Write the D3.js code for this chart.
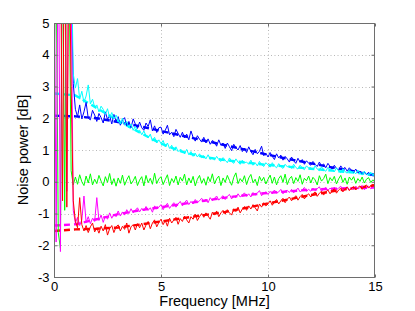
<!DOCTYPE html>
<html><head><meta charset="utf-8">
<script src="https://cdn.jsdelivr.net/npm/d3@7"></script>
<style>
body{margin:0;background:#fff;}
text{font-family:"Liberation Sans",Arial,Helvetica,sans-serif;}
</style></head>
<body><svg id="c" width="415" height="311"></svg>
<script>
// Frequency sampling of the measured curves (MHz)
const freqStart = 0, freqStop = 15, freqStep = 0.1;
const xTicks = [0, 5, 10, 15];
const yTicks = [-3, -2, -1, 0, 1, 2, 3, 4, 5];
const xLabel = "Frequency [MHz]";
const yLabel = "Noise power [dB]";

const blueMeas = [9.5,11.0,8.7,10.2,12.0,9.1,7.8,8.4,6.2,3.1,
2.28,2.05,2.42,1.98,2.2,2.5,2.0,1.95,2.25,2.1,
1.9,2.15,2.02,1.85,2.2,1.96,2.08,1.82,2.12,1.9,
2.05,1.78,1.95,2.02,1.76,1.9,1.7,1.98,1.82,1.68,
1.88,1.7,1.62,1.85,1.74,1.95,1.6,1.76,1.55,1.7,
1.72,1.5,1.62,1.78,1.48,1.56,1.42,1.65,1.52,1.4,
1.56,1.38,1.5,1.32,1.6,1.4,1.28,1.45,1.34,1.25,
1.4,1.22,1.35,1.18,1.3,1.25,1.12,1.32,1.15,1.22,
1.05,1.22,1.1,0.98,1.18,1.08,1.0,1.14,0.95,1.06,
0.92,1.1,0.95,0.85,1.02,0.88,0.96,1.12,0.82,0.9,
0.78,0.92,0.8,0.7,0.88,0.75,0.84,0.68,0.8,0.72,
0.62,0.78,0.66,0.58,0.74,0.62,0.7,0.55,0.66,0.58,
0.52,0.64,0.55,0.48,0.62,0.5,0.56,0.44,0.58,0.48,
0.4,0.52,0.42,0.36,0.5,0.4,0.45,0.33,0.44,0.36,
0.3,0.4,0.28,0.34,0.24,0.32,0.22,0.3,0.2,0.26,0.2];

const cyanMeas = [10.5,8.9,12.1,9.8,11.4,8.6,10.0,9.3,7.5,3.4,
2.95,3.25,2.6,2.85,2.5,2.7,3.05,2.45,2.6,2.35,
2.42,2.2,2.38,2.28,2.12,2.3,2.02,2.18,1.98,2.1,
1.95,1.82,2.0,1.78,1.9,1.7,1.82,1.62,1.75,1.58,
1.62,1.48,1.6,1.45,1.38,1.5,1.28,1.4,1.22,1.32,
1.2,1.3,1.1,1.22,1.05,1.15,0.98,1.1,0.95,1.02,
0.98,0.88,1.02,0.85,0.95,0.8,0.9,0.78,0.88,0.76,
0.82,0.72,0.85,0.7,0.78,0.68,0.8,0.7,0.64,0.76,
0.68,0.6,0.75,0.64,0.58,0.72,0.62,0.55,0.68,0.6,
0.62,0.55,0.68,0.52,0.6,0.5,0.64,0.54,0.48,0.6,
0.53,0.46,0.6,0.5,0.44,0.57,0.48,0.42,0.55,0.47,
0.5,0.42,0.55,0.45,0.4,0.52,0.44,0.38,0.5,0.43,
0.44,0.37,0.5,0.4,0.35,0.47,0.38,0.33,0.45,0.37,
0.38,0.31,0.44,0.34,0.29,0.41,0.32,0.27,0.38,0.3,
0.32,0.25,0.37,0.27,0.22,0.33,0.24,0.2,0.3,0.23,0.22];

const greenMeas = [3.5,7.0,-1.6,-2.1,8.0,-0.9,9.0,7.2,0.35,-0.1,
0.15,-0.08,0.22,0.0,-0.12,0.18,-0.04,0.25,-0.1,0.08,
-0.06,0.2,0.02,-0.13,0.16,-0.02,0.26,-0.09,0.1,-0.14,
0.12,-0.05,0.21,-0.11,0.06,0.19,-0.07,0.03,0.17,-0.12,
0.05,0.16,-0.13,0.2,-0.03,0.11,-0.08,0.27,-0.06,0.09,
0.16,-0.09,0.07,0.22,-0.12,0.1,-0.02,0.18,-0.1,0.14,
0.02,0.24,-0.1,0.12,-0.04,0.17,-0.13,0.08,0.2,-0.05,
0.1,-0.11,0.16,0.0,0.25,-0.07,0.09,0.18,-0.12,0.12,
-0.02,0.2,0.04,-0.11,0.14,0.28,-0.06,0.1,0.0,0.19,
-0.09,0.12,0.23,-0.03,0.08,-0.12,0.17,0.02,0.14,-0.07,
0.08,0.21,-0.05,0.15,-0.1,0.1,0.19,-0.02,0.24,-0.09,
0.09,0.17,-0.06,0.13,0.01,0.22,-0.08,0.11,0.03,0.18,
-0.04,0.14,0.06,-0.1,0.19,0.02,0.1,0.24,-0.06,0.13,
0.03,0.17,-0.07,0.09,0.2,-0.02,0.12,-0.08,0.15,0.05,
0.16,-0.05,0.1,0.01,0.15,-0.04,0.08,0.13,-0.02,0.06,0.0];

const magentaMeas = [8.5,-1.9,9.0,-2.2,10.5,7.5,-0.3,9.1,6.2,-0.9,
-1.3,-1.12,-1.38,-1.2,-0.45,-1.28,-1.1,-1.32,-1.15,-1.25,
-0.5,-1.22,-1.05,-1.28,-1.08,-1.18,-0.98,-1.15,-1.02,-1.1,
-0.92,-1.08,-0.95,-1.05,-0.88,-1.0,-0.85,-0.98,-0.9,-0.82,
-0.95,-0.84,-0.92,-0.78,-0.9,-0.82,-0.96,-0.76,-0.86,-0.8,
-0.72,-0.88,-0.76,-0.68,-0.84,-0.74,-0.66,-0.8,-0.7,-0.62,
-0.76,-0.66,-0.58,-0.72,-0.62,-0.7,-0.56,-0.66,-0.6,-0.52,
-0.64,-0.55,-0.66,-0.5,-0.6,-0.52,-0.45,-0.58,-0.5,-0.44,
-0.56,-0.46,-0.4,-0.54,-0.45,-0.5,-0.38,-0.48,-0.42,-0.35,
-0.46,-0.38,-0.48,-0.34,-0.42,-0.36,-0.28,-0.44,-0.37,-0.32,
-0.4,-0.3,-0.38,-0.26,-0.36,-0.32,-0.24,-0.38,-0.3,-0.27,
-0.34,-0.24,-0.35,-0.28,-0.2,-0.32,-0.26,-0.18,-0.3,-0.24,
-0.3,-0.2,-0.28,-0.22,-0.16,-0.3,-0.23,-0.18,-0.27,-0.2,
-0.26,-0.17,-0.25,-0.2,-0.14,-0.28,-0.21,-0.16,-0.25,-0.18,
-0.24,-0.15,-0.23,-0.18,-0.12,-0.25,-0.19,-0.14,-0.22,-0.17,-0.18];

const redMeas = [7.5,9.2,6.3,8.1,-0.6,10.0,-0.8,8.3,3.0,-0.6,
-1.25,-1.45,-0.5,-1.35,-1.55,-1.38,-1.6,-1.42,-1.3,-1.58,
-1.45,-1.62,-1.4,-1.55,-1.35,-1.68,-1.48,-1.38,-1.6,-1.42,
-1.36,-1.55,-1.4,-1.5,-1.3,-1.62,-1.42,-1.35,-1.52,-1.32,
-1.45,-1.3,-1.52,-1.36,-1.25,-1.48,-1.3,-1.2,-1.42,-1.28,
-1.18,-1.35,-1.22,-1.4,-1.15,-1.3,-1.2,-1.12,-1.34,-1.16,
-1.25,-1.08,-1.2,-1.3,-1.1,-1.18,-1.02,-1.22,-1.1,-1.0,
-1.12,-0.98,-1.08,-1.18,-0.96,-1.05,-0.92,-1.1,-0.98,-0.9,
-1.02,-0.88,-0.98,-1.05,-0.85,-0.94,-0.8,-0.98,-0.86,-0.78,
-0.9,-0.76,-0.86,-0.72,-0.82,-0.92,-0.7,-0.8,-0.66,-0.76,
-0.7,-0.6,-0.74,-0.64,-0.56,-0.7,-0.6,-0.52,-0.66,-0.55,
-0.48,-0.6,-0.52,-0.44,-0.58,-0.47,-0.4,-0.54,-0.44,-0.38,
-0.48,-0.38,-0.32,-0.46,-0.36,-0.3,-0.42,-0.32,-0.26,-0.38,
-0.28,-0.22,-0.36,-0.26,-0.2,-0.32,-0.22,-0.17,-0.28,-0.2,
-0.15,-0.26,-0.18,-0.13,-0.24,-0.15,-0.1,-0.2,-0.12,-0.08,-0.12];

// Model (dashed) curves, sampled every 1 MHz
const modelFreq = [0,1,2,3,4,5,6,7,8,9,10,11,12,13,14,15];
const blueModel = [2.08,2.06,2.0,1.88,1.75,1.6,1.45,1.3,1.15,1.0,0.85,0.71,0.58,0.45,0.33,0.2];
const cyanModel = [2.78,2.72,2.32,1.92,1.55,1.2,0.94,0.78,0.68,0.6,0.53,0.47,0.41,0.35,0.29,0.22];
const magentaModel = [-1.38,-1.34,-1.18,-1.02,-0.9,-0.8,-0.7,-0.6,-0.5,-0.42,-0.35,-0.3,-0.25,-0.22,-0.2,-0.18];
const redModel = [-1.55,-1.5,-1.48,-1.44,-1.35,-1.25,-1.15,-1.05,-0.95,-0.82,-0.68,-0.55,-0.42,-0.3,-0.2,-0.12];

const measured = [
  {v: blueMeas, c: "#0000ff"},
  {v: cyanMeas, c: "#00ffff"},
  {v: greenMeas, c: "#00ff00"},
  {v: magentaMeas, c: "#ff00ff"},
  {v: redMeas, c: "#ff0000"}
];
const models = [
  {v: blueModel, c: "#0000ff"},
  {v: cyanModel, c: "#00ffff"},
  {v: magentaModel, c: "#ff00ff"},
  {v: redModel, c: "#ff0000"}
];

const L = 54, R = 375, T = 23, B = 277;
const x = d3.scaleLinear().domain([0, 15]).range([L, R]);
const y = d3.scaleLinear().domain([-3, 5]).range([B, T]);
const svg = d3.select("#c");

svg.append("defs").append("clipPath").attr("id", "clip")
  .append("rect").attr("x", L).attr("y", T).attr("width", R - L).attr("height", B - T);

// grid
const grid = svg.append("g").attr("stroke", "#b8b8b8").attr("stroke-width", 1)
  .attr("stroke-dasharray", "1,2.5");
grid.selectAll(".gx").data(xTicks.filter(t => t > 0 && t < 15)).enter().append("line")
  .attr("x1", d => Math.round(x(d)) + 0.5).attr("x2", d => Math.round(x(d)) + 0.5)
  .attr("y1", T).attr("y2", B);
grid.selectAll(".gy").data(yTicks.filter(t => t > -3 && t < 5)).enter().append("line")
  .attr("y1", d => Math.round(y(d)) + 0.5).attr("y2", d => Math.round(y(d)) + 0.5)
  .attr("x1", L).attr("x2", R);

const plot = svg.append("g").attr("clip-path", "url(#clip)");
const mline = d3.line().x((d, i) => x(modelFreq[i])).y(d => y(d));
models.forEach(s => {
  plot.append("path").attr("d", mline(s.v)).attr("fill", "none")
    .attr("stroke", s.c).attr("stroke-width", 2.4).attr("stroke-dasharray", "6,4");
});
const line = d3.line().x((d, i) => x(freqStart + i * freqStep)).y(d => y(d));
measured.forEach(s => {
  plot.append("path").attr("d", line(s.v)).attr("fill", "none")
    .attr("stroke", s.c).attr("stroke-width", 1).attr("stroke-linejoin", "round");
});

// frame & ticks
const axc = "#6e6e6e";
svg.append("rect").attr("x", L + 0.5).attr("y", T + 0.5).attr("width", R - L - 1).attr("height", B - T)
  .attr("fill", "none").attr("stroke", axc).attr("stroke-width", 1);

const fmtTick = d => String(d).replace("\u2212", "-");
const gBottom = svg.append("g").attr("transform", `translate(0,${B + 0.5})`)
  .call(d3.axisBottom(x).tickValues(xTicks).tickSize(-3).tickPadding(4).tickFormat(fmtTick));
const gTop = svg.append("g").attr("transform", `translate(0,${T + 0.5})`)
  .call(d3.axisTop(x).tickValues(xTicks).tickSize(-3).tickFormat(""));
const gLeft = svg.append("g").attr("transform", `translate(${L + 0.5},0)`)
  .call(d3.axisLeft(y).tickValues(yTicks).tickSize(-3).tickPadding(5).tickFormat(fmtTick));
const gRight = svg.append("g").attr("transform", `translate(${R - 0.5},0)`)
  .call(d3.axisRight(y).tickValues(yTicks).tickSize(-3).tickFormat(""));
[gBottom, gTop, gLeft, gRight].forEach(g => {
  g.select(".domain").remove();
  g.selectAll(".tick line").attr("stroke", axc);
  g.selectAll("text").attr("fill", "#000").attr("font-size", 13)
    .attr("font-family", "'Liberation Sans',Arial,sans-serif");
});

svg.append("text").attr("x", (L + R) / 2).attr("y", 306).attr("text-anchor", "middle")
  .attr("font-size", 14.5).attr("fill", "#000").text(xLabel);
svg.append("text").attr("transform", `translate(28,${(T + B) / 2}) rotate(-90)`)
  .attr("text-anchor", "middle").attr("font-size", 14.5).attr("fill", "#000").text(yLabel);
</script></body></html>
